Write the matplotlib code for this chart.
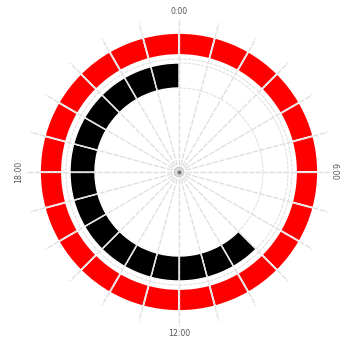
import numpy as np
import matplotlib
matplotlib.use("Agg")
import matplotlib.pyplot as plt

hours = list(range(24))
hour_labels = ["0:00", "6:00", "12:00", "18:00"]
label_hours = [0, 6, 12, 18]
outer_ring = [1] * 24
inner_ring = [0] * 9 + [1] * 15

fig = plt.figure(figsize=(3.4, 3.4), dpi=100)
ax = fig.add_axes([19 / 340, 1 - 332 / 340, 320 / 340, 320 / 340], projection="polar")
ax.set_theta_zero_location("N")
ax.set_theta_direction(-1)
ax.set_ylim(0, 160)
ax.axis("off")

width = 2 * np.pi / 24
theta = np.array(hours) * width + width / 2

outer_b, outer_h = 117, 22
inner_b, inner_h = 84, 25
for t, v in zip(theta, outer_ring):
    if v:
        ax.bar(t, outer_h, width=width, bottom=outer_b, color="#ff0000",
               edgecolor="white", linewidth=1.3, zorder=2)
for t, v in zip(theta, inner_ring):
    if v:
        ax.bar(t, inner_h, width=width, bottom=inner_b, color="#000000",
               edgecolor="white", linewidth=1.0, zorder=2)

# grid circles
circ = np.linspace(0, 2 * np.pi, 400)
for r in [inner_b, inner_b + inner_h, 113]:
    ax.plot(circ, np.full_like(circ, r), color="#e2e2e2", lw=0.8, ls=(0, (3, 1)), zorder=1)

# radial lines
for h in hours:
    a = h * width
    rmax = 150 if h == 6 else 154
    ax.plot([a, a], [0, rmax], color="#dcdcdc", lw=1.0, ls=(0, (4, 1)), zorder=3, alpha=0.9)

# center marker
ax.plot(circ, np.full_like(circ, 4.5), color="#cccccc", lw=0.9, zorder=4)
ax.plot([0], [0], "o", color="#777777", ms=2, zorder=5)

rots = {0: 0, 6: -90, 12: 0, 18: 90}
radii = {0: 161, 6: 155.5, 12: 161, 18: 160}
for h, lab in zip(label_hours, hour_labels):
    ax.text(h * width, radii[h], lab, ha="center", va="center", fontsize=5.6,
            color="#555555", rotation=rots[h], zorder=6)

fig.savefig("out.png", dpi=100)
